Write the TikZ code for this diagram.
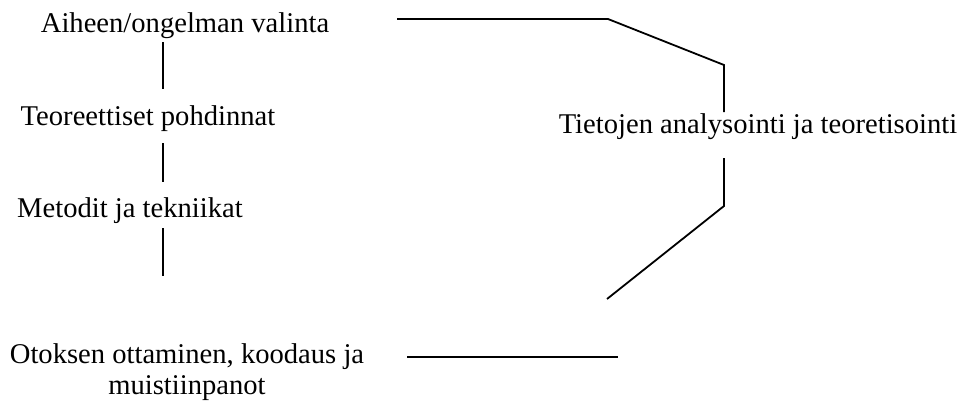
\documentclass[tikz,border=0pt]{standalone}
\usepackage{fontspec}
\setmainfont{Liberation Serif}
\usetikzlibrary{positioning}

\begin{document}
\begin{tikzpicture}[
    x=0.5pt, y=-0.5pt,
    every node/.style={align=center, inner sep=0pt,
      font=\fontsize{14.3}{15.5}\selectfont},
    link/.style={line width=0.9pt}
  ]
  \useasboundingbox (0,0) rectangle (964,402);

  % Stages on the left
  \node[anchor=base] (aihe) at (185,32) {Aiheen/ongelman valinta};
  \node[anchor=base] (teoria) at (148,125) {Teoreettiset pohdinnat};
  \node[anchor=base] (metodit) at (130,217) {Metodit ja tekniikat};
  % base of a two-line node sits on its last line
  \node[anchor=base] (otos) at (187,394) {Otoksen ottaminen, koodaus ja\\muistiinpanot};

  % Stage on the right
  \node[anchor=base] (tieto) at (758,133) {Tietojen analysointi ja teoretisointi};

  % Line ends
  \coordinate (aiheAla) at (163,42);
  \coordinate (teoriaYla) at (163,89);
  \coordinate (teoriaAla) at (163,143);
  \coordinate (metoditYla) at (163,182);
  \coordinate (metoditAla) at (163,228);
  \coordinate (otosYla) at (163,276);
  \coordinate (otosOik) at (407,357);
  \coordinate (otosLoppu) at (618,357);
  \coordinate (alaKulma) at (607,299);
  \coordinate (tietoAlaMutka) at (724,206);
  \coordinate (tietoAla) at (724,158);
  \coordinate (tietoYla) at (724,112);
  \coordinate (tietoYlaMutka) at (724,65);
  \coordinate (ylaKulma) at (608,19);
  \coordinate (aiheOik) at (397,19);

  % Connectors
  \draw[link] (aiheAla) -- (teoriaYla);
  \draw[link] (teoriaAla) -- (metoditYla);
  \draw[link] (metoditAla) -- (otosYla);
  \draw[link] (otosOik) -- (otosLoppu);
  \draw[link] (alaKulma) -- (tietoAlaMutka) -- (tietoAla);
  \draw[link] (tietoYla) -- (tietoYlaMutka) -- (ylaKulma) -- (aiheOik);
\end{tikzpicture}
\end{document}
